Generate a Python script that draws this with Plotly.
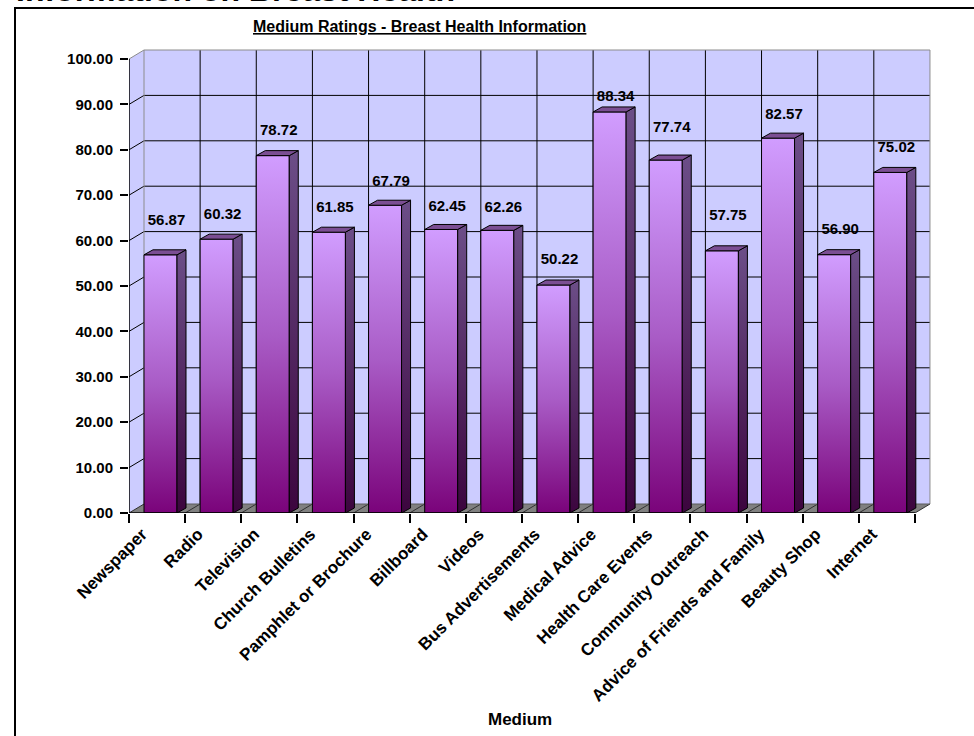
import plotly.graph_objects as go

# ---- data -------------------------------------------------------------
categories = [
    "Newspaper", "Radio", "Television", "Church Bulletins",
    "Pamphlet or Brochure", "Billboard", "Videos", "Bus Advertisements",
    "Medical Advice", "Health Care Events", "Community Outreach",
    "Advice of Friends and Family", "Beauty Shop", "Internet",
]
ratings = [56.87, 60.32, 78.72, 61.85, 67.79, 62.45, 62.26,
           50.22, 88.34, 77.74, 57.75, 82.57, 56.90, 75.02]
y_ticks = [0, 10, 20, 30, 40, 50, 60, 70, 80, 90, 100]

page_heading = "Information on Breast Health"
chart_title = "Medium Ratings - Breast Health Information"
x_title = "Medium"

# vertical lift (px) of each value label above its bar top
label_lift = [34, 24, 24, 24, 23, 22, 22, 25, 15, 32, 35, 23, 24, 24]

# ---- page geometry (px) ----------------------------------------------
PAGE_W, PAGE_H = 974, 736
M_L, M_R, M_T, M_B = 129, 34, 40, 223
PLOT_W = PAGE_W - M_L - M_R
PLOT_H = PAGE_H - M_T - M_B
CAT_PX = 56.14          # width of one category slot
VAL_PX = 4.54           # px per rating point
N = len(categories)
Y_TOP = y_ticks[-1]


def ux(p):
    return p / CAT_PX


def uy(p):
    return p / VAL_PX


def paper_x(px):
    return (px - M_L) / PLOT_W


def paper_y(py):
    return (PAGE_H - M_B - py) / PLOT_H


wall_dx, wall_dy = ux(15), uy(9)          # depth of the walls / floor
bar_l, bar_r = ux(15), ux(48)             # bar front face inside its slot
bar_dx, bar_dy = ux(9), uy(5)             # depth of a bar
label_shift = ux(15)                      # category labels sit left of the slot centre

WALL = "#CCCCFF"
EDGE = "#8C8C8C"
FLOOR = "#808080"
FONT = "Liberation Sans, Arial, sans-serif"

fig = go.Figure()

# ---- walls, floor and gridlines (shapes, under the bars) -------------
shapes = []


def seg(x0, y0, x1, y1, color="black", width=1, layer="below", xref="x", yref="y"):
    shapes.append(dict(type="line", xref=xref, yref=yref, x0=x0, y0=y0, x1=x1, y1=y1,
                       line=dict(color=color, width=width), layer=layer))


shapes.append(dict(type="path", xref="x", yref="y", layer="below",
                   path=f"M 0,0 L {wall_dx},{wall_dy} L {wall_dx},{Y_TOP + wall_dy} L 0,{Y_TOP} Z",
                   fillcolor=WALL, line=dict(width=0)))
shapes.append(dict(type="rect", xref="x", yref="y", layer="below",
                   x0=wall_dx, x1=N + wall_dx, y0=wall_dy, y1=Y_TOP + wall_dy,
                   fillcolor=WALL, line=dict(width=0)))
shapes.append(dict(type="path", xref="x", yref="y", layer="below",
                   path=f"M 0,0 L {N},0 L {N + wall_dx},{wall_dy} L {wall_dx},{wall_dy} Z",
                   fillcolor=FLOOR, line=dict(width=0)))

for v in y_ticks[1:-1]:
    seg(wall_dx, v + wall_dy, N + wall_dx, v + wall_dy)
    seg(0, v, wall_dx, v + wall_dy)
for i in range(1, N):
    seg(i + wall_dx, wall_dy, i + wall_dx, Y_TOP + wall_dy)
for i in range(0, N + 1):
    seg(i, 0, i + wall_dx, wall_dy, color="#303030")

seg(0, Y_TOP, wall_dx, Y_TOP + wall_dy, color=EDGE)
seg(wall_dx, Y_TOP + wall_dy, N + wall_dx, Y_TOP + wall_dy, color=EDGE)
seg(wall_dx, wall_dy, wall_dx, Y_TOP + wall_dy, color=EDGE)
seg(N + wall_dx, wall_dy, N + wall_dx, Y_TOP + wall_dy, color=EDGE)
seg(wall_dx, wall_dy, N + wall_dx, wall_dy, color="#5A5A5A")

# front axis lines
seg(0, 0, 0, Y_TOP, color="black", width=1.5, layer="above")
seg(0, 0, N, 0, color="black", width=1.5, layer="above")

# page frame
shapes.append(dict(type="rect", xref="paper", yref="paper", layer="above",
                   x0=paper_x(15), x1=paper_x(PAGE_W + 20),
                   y0=paper_y(PAGE_H + 20), y1=paper_y(8),
                   line=dict(color="black", width=2), fillcolor="rgba(0,0,0,0)"))

# ---- bars: front, side and top faces ---------------------------------
for i, v in enumerate(ratings):
    xl, xr = i + bar_l, i + bar_r
    fig.add_trace(go.Scatter(
        x=[xl, xr, xr, xl, xl], y=[0, 0, v, v, 0], mode="lines", fill="toself",
        fillgradient=dict(type="vertical",
                          colorscale=[[0, "#7A037A"], [0.5, "#A95CC6"], [1, "#D19DFF"]]),
        line=dict(color="black", width=1), hoverinfo="skip", showlegend=False))
    fig.add_trace(go.Scatter(
        x=[xr, xr + bar_dx, xr + bar_dx, xr, xr],
        y=[0, bar_dy, v + bar_dy, v, 0], mode="lines", fill="toself",
        fillgradient=dict(type="vertical",
                          colorscale=[[0, "#3C053E"], [1, "#6C4E88"]]),
        line=dict(color="black", width=1), hoverinfo="skip", showlegend=False))
    fig.add_trace(go.Scatter(
        x=[xl, xr, xr + bar_dx, xl + bar_dx, xl],
        y=[v, v, v + bar_dy, v + bar_dy, v], mode="lines", fill="toself",
        fillcolor="#7B4E93", line=dict(color="black", width=1),
        hoverinfo="skip", showlegend=False))

# value labels
fig.add_trace(go.Scatter(
    x=[i + (bar_l + bar_r) / 2 + ux(6) for i in range(N)],
    y=[v + uy(lift) for v, lift in zip(ratings, label_lift)],
    mode="text", text=[f"{v:.2f}" for v in ratings],
    textposition="middle center", cliponaxis=False,
    textfont=dict(family=FONT, size=15, color="black", weight="bold"),
    hoverinfo="skip", showlegend=False))

# ---- layout -----------------------------------------------------------
fig.update_layout(
    width=PAGE_W, height=PAGE_H,
    margin=dict(l=M_L, r=M_R, t=M_T, b=M_B, autoexpand=False),
    paper_bgcolor="white", plot_bgcolor="white",
    showlegend=False,
    shapes=shapes,
    xaxis=dict(
        range=[0, PLOT_W / CAT_PX], fixedrange=True,
        showgrid=False, zeroline=False, showline=False,
        tickmode="array", tickvals=[i + 0.5 - label_shift for i in range(N)],
        ticktext=categories,
        tickangle=-45, ticks="", ticklabelstandoff=7,
        tickfont=dict(family=FONT, size=17, color="black", weight="bold"),
        minor=dict(ticks="outside", tick0=0, dtick=1, ticklen=9,
                   tickcolor="black", tickwidth=1.5, showgrid=False),
    ),
    yaxis=dict(
        range=[0, PLOT_H / VAL_PX], fixedrange=True,
        showgrid=False, zeroline=False, showline=False,
        tickmode="array", tickvals=y_ticks, ticktext=[f"{t:.2f}" for t in y_ticks],
        ticks="outside", ticklen=8, tickcolor="black", tickwidth=1.5,
        ticklabelstandoff=4,
        tickfont=dict(family=FONT, size=15, color="black", weight="bold"),
    ),
    annotations=[
        dict(text=f"<b>{page_heading}</b>", xref="paper", yref="paper",
             x=paper_x(14), y=paper_y(10), xanchor="left", yanchor="bottom",
             showarrow=False, font=dict(family=FONT, size=32, color="black")),
        dict(text=f"<b><u>{chart_title}</u></b>", xref="paper", yref="paper",
             x=paper_x(419), y=paper_y(27), xanchor="center", yanchor="middle",
             showarrow=False, font=dict(family=FONT, size=16, color="black")),
        dict(text=f"<b>{x_title}</b>", xref="paper", yref="paper",
             x=paper_x(520), y=paper_y(719), xanchor="center", yanchor="middle",
             showarrow=False, font=dict(family=FONT, size=17, color="black")),
    ],
)

fig.write_html("out.html")
